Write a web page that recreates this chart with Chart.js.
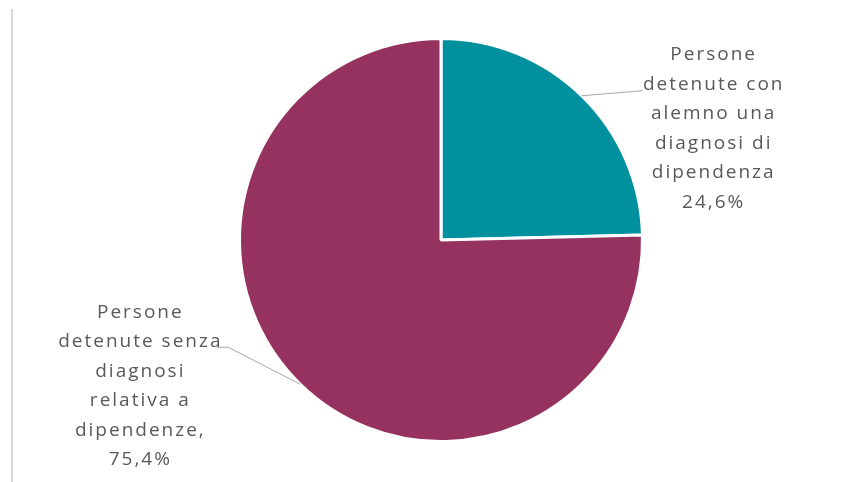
<!DOCTYPE html>
<html>
<head>
<meta charset="utf-8">
<script src="https://cdn.jsdelivr.net/npm/chart.js@4/dist/chart.umd.min.js"></script>
<style>
  html, body { margin: 0; padding: 0; background: #ffffff; }
  #wrap { width: 861px; height: 482px; position: relative; }
</style>
</head>
<body>
<div id="wrap"><canvas id="chart" width="861" height="482"></canvas></div>
<script>
// data
const categories = [
  "Persone detenute con alemno una diagnosi di dipendenza",
  "Persone detenute senza diagnosi relativa a dipendenze,"
];
const values = [24.6, 75.4];
const labelLines = [
  ["Persone", "detenute con", "alemno una", "diagnosi di", "dipendenza"],
  ["Persone", "detenute senza", "diagnosi", "relativa a", "dipendenze,"]
];
const colors = ["#00909e", "#963260"];

const fmt = (v) => v.toLocaleString("it-IT", { minimumFractionDigits: 1, maximumFractionDigits: 1 }) + "%";

// label placement relative to the slice's outer mid point
const placement = [
  { dx: 131, dy: 33, line: [[61, -5]] },
  { dx: -161, dy: 2, line: [[-72, -37], [-84, -37]] }
];

const outsideLabels = {
  id: "outsideLabels",
  afterDraw(chart) {
    const ctx = chart.ctx;
    const meta = chart.getDatasetMeta(0);

    // thin frame line on the left
    ctx.save();
    ctx.strokeStyle = "#d9d9d9";
    ctx.lineWidth = 2;
    ctx.beginPath();
    ctx.moveTo(12, 9);
    ctx.lineTo(12, 482);
    ctx.stroke();
    ctx.restore();

    meta.data.forEach((arc, i) => {
      const p = arc.getProps(["x", "y", "startAngle", "endAngle", "outerRadius"], true);
      const mid = (p.startAngle + p.endAngle) / 2;
      const ax = p.x + Math.cos(mid) * p.outerRadius;
      const ay = p.y + Math.sin(mid) * p.outerRadius;
      const pl = placement[i];

      ctx.save();
      ctx.strokeStyle = "#a6a6a6";
      ctx.lineWidth = 1;
      ctx.beginPath();
      ctx.moveTo(ax, ay);
      pl.line.forEach(([lx, ly]) => ctx.lineTo(ax + lx, ay + ly));
      ctx.stroke();

      const lines = labelLines[i].concat([fmt(values[i])]);
      const lh = 29.5;
      const cx = ax + pl.dx + 1;
      const top = ay + pl.dy - lh * (lines.length - 1) / 2;
      ctx.fillStyle = "#595959";
      ctx.font = "19px 'Open Sans'";
      ctx.letterSpacing = "2px";
      ctx.textAlign = "center";
      ctx.textBaseline = "middle";
      lines.forEach((t, k) => ctx.fillText(t, cx, top + k * lh));
      ctx.restore();
    });
  }
};

new Chart(document.getElementById("chart"), {
  type: "pie",
  data: {
    labels: categories,
    datasets: [{
      data: values,
      backgroundColor: colors,
      borderColor: "#ffffff",
      borderWidth: 3
    }]
  },
  options: {
    responsive: false,
    animation: false,
    layout: { padding: { left: 238, right: 217, top: 37, bottom: 39 } },
    plugins: {
      legend: { display: false },
      tooltip: { enabled: false }
    }
  },
  plugins: [outsideLabels]
});
</script>
</body>
</html>
